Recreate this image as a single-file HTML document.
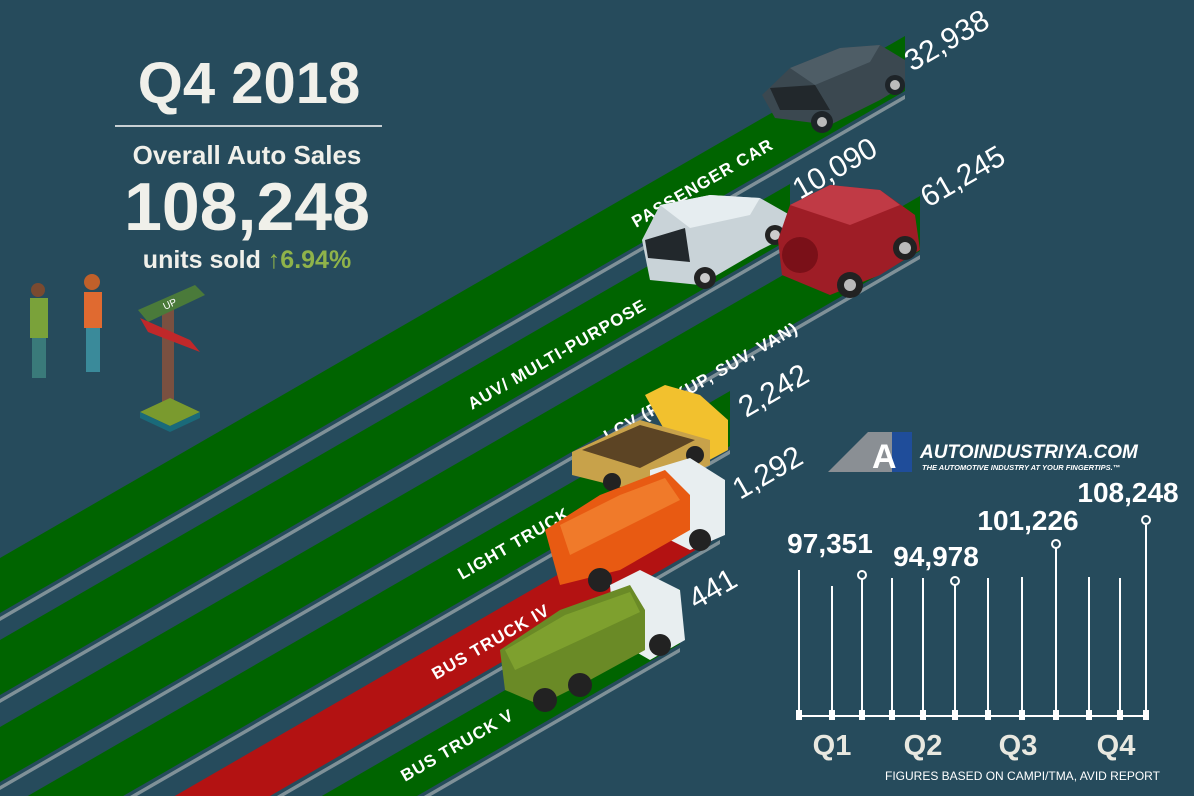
<!DOCTYPE html>
<html><head><meta charset="utf-8"><style>
html,body{margin:0;padding:0;background:#264b5c;width:1194px;height:796px;overflow:hidden;}
svg{display:block;font-family:"Liberation Sans",sans-serif;}
</style></head><body>
<svg width="1194" height="796" viewBox="0 0 1194 796">
<rect width="1194" height="796" fill="#264b5c"/>
<g>
<polygon points="0,558 905,36 905,91 0,613" fill="#006400"/>
<polygon points="0,617 905,95 905,99 0,621" fill="#7f9198"/>
<polygon points="0,640 790,184 790,239 0,695" fill="#006400"/>
<polygon points="0,699 790,243 790,247 0,703" fill="#7f9198"/>
<polygon points="0,727 920,196 920,251 0,782" fill="#006400"/>
<polygon points="0,786 920,255 920,259 0,790" fill="#7f9198"/>
<polygon points="0,812 730,391 730,446 0,867" fill="#006400"/>
<polygon points="0,871 730,450 730,454 0,875" fill="#7f9198"/>
<polygon points="0,897 720,481 720,536 0,952" fill="#b31212"/>
<polygon points="0,956 720,540 720,544 0,960" fill="#7f9198"/>
<polygon points="0,982 680,589 680,644 0,1037" fill="#006400"/>
<polygon points="0,1041 680,648 680,652 0,1045" fill="#7f9198"/>
</g>
<g fill="#fff" font-size="17" font-weight="bold" letter-spacing="1">
<text transform="translate(636,228) rotate(-30)">PASSENGER CAR</text>
<text transform="translate(472,410) rotate(-30)">AUV/ MULTI-PURPOSE</text>
<text transform="translate(608,442) rotate(-30)">LCV (PICKUP, SUV, VAN)</text>
<text transform="translate(462,580) rotate(-30)">LIGHT TRUCK</text>
<text transform="translate(436,680) rotate(-30)">BUS TRUCK IV</text>
<text transform="translate(405,782) rotate(-30)">BUS TRUCK V</text>
</g>
<g fill="#fff" font-size="30">
<text transform="translate(912,72) rotate(-30)">32,938</text>
<text transform="translate(800,200) rotate(-30)">10,090</text>
<text transform="translate(928,208) rotate(-30)">61,245</text>
<text transform="translate(746,418) rotate(-30)">2,242</text>
<text transform="translate(740,500) rotate(-30)">1,292</text>
<text transform="translate(696,610) rotate(-30)">441</text>
</g>
<g>
<polygon points="762,95 790,68 840,48 880,45 905,60 905,85 880,100 830,125 775,118" fill="#3b4850"/>
<polygon points="790,68 840,48 880,45 870,62 815,85" fill="#4e5d66"/>
<polygon points="770,88 815,85 830,110 780,110" fill="#22282c"/>
<circle cx="822" cy="122" r="11" fill="#1e2428"/><circle cx="822" cy="122" r="5" fill="#bbb"/>
<circle cx="895" cy="85" r="10" fill="#1e2428"/><circle cx="895" cy="85" r="5" fill="#bbb"/>
</g>
<g>
<polygon points="642,240 660,205 710,195 760,198 790,215 790,235 760,250 700,285 650,280" fill="#c9d3d8"/>
<polygon points="660,205 710,195 760,198 750,215 690,228" fill="#e6edf0"/>
<polygon points="645,240 685,228 690,262 648,258" fill="#22282c"/>
<circle cx="705" cy="278" r="11" fill="#222"/><circle cx="705" cy="278" r="5" fill="#ccc"/>
<circle cx="775" cy="235" r="10" fill="#222"/><circle cx="775" cy="235" r="5" fill="#ccc"/>
</g>
<g>
<polygon points="778,240 790,205 830,185 880,190 915,215 920,250 880,275 830,295 782,275" fill="#9e1d26"/>
<polygon points="790,205 830,185 880,190 900,205 850,225" fill="#c03a45"/>
<circle cx="800" cy="255" r="18" fill="#7a1018"/>
<circle cx="850" cy="285" r="13" fill="#222"/><circle cx="850" cy="285" r="6" fill="#bbb"/>
<circle cx="905" cy="248" r="12" fill="#222"/><circle cx="905" cy="248" r="6" fill="#bbb"/>
</g>
<g>
<polygon points="645,395 665,385 700,395 728,420 728,450 700,465 670,440" fill="#f2c12e"/>
<polygon points="572,452 640,420 710,440 710,465 640,492 572,475" fill="#c8a24a"/>
<polygon points="582,450 640,425 695,440 640,468" fill="#5c4424"/>
<circle cx="612" cy="482" r="9" fill="#222"/><circle cx="695" cy="455" r="9" fill="#222"/>
</g>
<g>
<polygon points="650,470 690,458 725,480 725,535 690,550 650,530" fill="#e8eef0"/>
<polygon points="545,530 600,495 665,470 690,495 690,530 620,570 560,585" fill="#e85a12"/>
<polygon points="560,525 620,495 665,478 680,500 620,530 570,555" fill="#f07a2a"/>
<circle cx="600" cy="580" r="12" fill="#222"/><circle cx="700" cy="540" r="11" fill="#222"/>
</g>
<g>
<polygon points="610,585 640,570 680,590 685,640 650,660 615,640" fill="#e8eef0"/>
<polygon points="500,650 560,610 630,585 645,610 645,650 590,680 540,705 505,690" fill="#6a8a26"/>
<polygon points="505,650 565,615 630,592 640,612 580,640 515,670" fill="#7ea02e"/>
<circle cx="545" cy="700" r="12" fill="#222"/><circle cx="580" cy="685" r="12" fill="#222"/><circle cx="660" cy="645" r="11" fill="#222"/>
</g>
<g fill="#f0f0ea" text-anchor="middle">
<text x="249" y="103" font-size="58" font-weight="bold">Q4 2018</text>
<rect x="115" y="125" width="267" height="2" fill="#c8d0d4"/>
<text x="247" y="164" font-size="26" font-weight="bold">Overall Auto Sales</text>
<text x="247" y="230" font-size="68" font-weight="bold">108,248</text>
<text x="247" y="268" font-size="25" font-weight="bold">units sold <tspan fill="#8fb34a">↑6.94%</tspan></text>
</g>
<g>
<circle cx="38" cy="290" r="7" fill="#7a4a30"/>
<rect x="30" y="298" width="18" height="40" fill="#7aa23a"/>
<rect x="32" y="338" width="14" height="40" fill="#3a7a7a"/>
<circle cx="92" cy="282" r="8" fill="#c0602a"/>
<rect x="84" y="292" width="18" height="36" fill="#e06a30"/>
<rect x="86" y="328" width="14" height="44" fill="#3a8a9a"/>
<rect x="162" y="300" width="12" height="112" fill="#7a5040"/>
<polygon points="138,310 195,285 205,295 148,322" fill="#4a7a3a"/>
<text x="165" y="310" font-size="10" fill="#fff" transform="rotate(-25 165 310)">UP</text>
<polygon points="140,318 190,340 200,352 148,332" fill="#c0282a"/>
<polygon points="140,412 170,398 200,412 170,426" fill="#7a9a2e"/>
<polygon points="140,412 170,426 170,432 140,418" fill="#1a6a7a"/><polygon points="200,412 170,426 170,432 200,418" fill="#1a6a7a"/>
</g>
<g>
<polygon points="828,472 868,432 905,432 905,472" fill="#8a8f94"/>
<polygon points="892,432 912,432 912,472 892,472" fill="#1f4d9a"/>
<text x="872" y="468" font-size="34" font-weight="bold" fill="#fff">A</text>
<text x="920" y="458" font-size="19" font-weight="bold" font-style="italic" fill="#fff">AUTOINDUSTRIYA.COM</text>
<text x="922" y="470" font-size="7.5" font-weight="bold" font-style="italic" fill="#fff">THE AUTOMOTIVE INDUSTRY AT YOUR FINGERTIPS.™</text>
</g>
<g stroke="#fff" stroke-width="2">
<line x1="799" y1="716" x2="1147" y2="716"/>
<line x1="799" y1="570" x2="799" y2="710"/>
<line x1="832" y1="586" x2="832" y2="710"/>
<line x1="862" y1="578" x2="862" y2="710"/>
<line x1="892" y1="578" x2="892" y2="710"/>
<line x1="923" y1="578" x2="923" y2="710"/>
<line x1="955" y1="585" x2="955" y2="710"/>
<line x1="988" y1="578" x2="988" y2="710"/>
<line x1="1022" y1="577" x2="1022" y2="710"/>
<line x1="1056" y1="548" x2="1056" y2="710"/>
<line x1="1089" y1="577" x2="1089" y2="710"/>
<line x1="1120" y1="578" x2="1120" y2="710"/>
<line x1="1146" y1="525" x2="1146" y2="710"/>
<circle cx="862" cy="575" r="4" fill="none"/>
<circle cx="955" cy="581" r="4" fill="none"/>
<circle cx="1056" cy="544" r="4" fill="none"/>
<circle cx="1146" cy="520" r="4" fill="none"/>
</g>
<g fill="#fff">
<rect x="796" y="710" width="6" height="10"/><rect x="829" y="710" width="6" height="10"/><rect x="859" y="710" width="6" height="10"/><rect x="889" y="710" width="6" height="10"/><rect x="920" y="710" width="6" height="10"/><rect x="952" y="710" width="6" height="10"/><rect x="985" y="710" width="6" height="10"/><rect x="1019" y="710" width="6" height="10"/><rect x="1053" y="710" width="6" height="10"/><rect x="1086" y="710" width="6" height="10"/><rect x="1117" y="710" width="6" height="10"/><rect x="1143" y="710" width="6" height="10"/>
</g>
<g fill="#fff" font-size="28" font-weight="bold" text-anchor="middle">
<text x="830" y="553">97,351</text>
<text x="936" y="566">94,978</text>
<text x="1028" y="530">101,226</text>
<text x="1128" y="502">108,248</text>
</g>
<g fill="#e8e8e0" font-size="29" font-weight="bold" text-anchor="middle">
<text x="832" y="755">Q1</text><text x="923" y="755">Q2</text><text x="1018" y="755">Q3</text><text x="1116" y="755">Q4</text>
</g>
<text x="885" y="780" font-size="12" fill="#fff">FIGURES BASED ON CAMPI/TMA, AVID REPORT</text>
</svg>
</body></html>
